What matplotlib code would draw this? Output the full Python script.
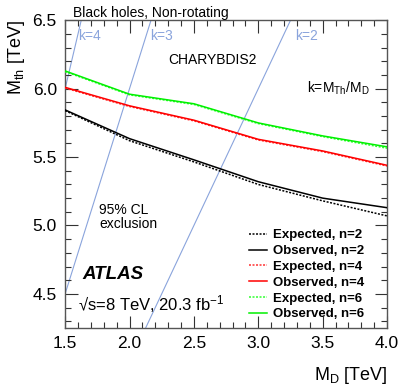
import numpy as np
import matplotlib
matplotlib.use("Agg")
import matplotlib.pyplot as plt
from matplotlib.ticker import MultipleLocator, FormatStrFormatter
from matplotlib.lines import Line2D

plt.rcParams['font.family'] = ['Liberation Sans', 'DejaVu Sans']
plt.rcParams['mathtext.fontset'] = 'custom'
plt.rcParams['mathtext.rm'] = 'Liberation Sans'
plt.rcParams['mathtext.it'] = 'Liberation Sans:italic'
plt.rcParams['mathtext.bf'] = 'Liberation Sans:bold'

md = [1.5, 2.0, 2.5, 3.0, 3.5, 4.0]
exp_n2 = [5.84, 5.62, 5.465, 5.30, 5.18, 5.07]
obs_n2 = [5.845, 5.635, 5.48, 5.32, 5.20, 5.13]
exp_n4 = [6.005, 5.87, 5.765, 5.625, 5.54, 5.435]
obs_n4 = [6.01, 5.875, 5.77, 5.63, 5.545, 5.44]
exp_n6 = [6.125, 5.955, 5.885, 5.745, 5.65, 5.565]
obs_n6 = [6.13, 5.96, 5.89, 5.75, 5.655, 5.575]
k_values = [4, 3, 2]

dash = (0, (1.3, 1.0))
fig = plt.figure(figsize=(4.07, 3.91), dpi=100)
ax = fig.add_axes([0.16, 0.161, 0.791, 0.787])

xs = np.array([1.5, 4.0])
for k in k_values:
    ax.plot(xs, k * xs, color='#8aa4dc', lw=0.8, zorder=1)

ax.plot(md, exp_n2, color='black', ls=dash, lw=1.1, zorder=3)
ax.plot(md, obs_n2, color='black', lw=1.1, zorder=3)
ax.plot(md, exp_n4, color='#ff3030', ls=dash, lw=1.1, zorder=3)
ax.plot(md, obs_n4, color='#ff0000', lw=1.1, zorder=3)
ax.plot(md, exp_n6, color='#30ff30', ls=dash, lw=1.1, zorder=3)
ax.plot(md, obs_n6, color='#00f000', lw=1.1, zorder=3)

ax.set_xlim(1.5, 4.0)
ax.set_ylim(4.25, 6.5)
ax.xaxis.set_major_locator(MultipleLocator(0.5))
ax.xaxis.set_minor_locator(MultipleLocator(0.1))
ax.yaxis.set_major_locator(MultipleLocator(0.5))
ax.yaxis.set_minor_locator(MultipleLocator(0.1))
ax.xaxis.set_major_formatter(FormatStrFormatter('%.1f'))
ax.yaxis.set_major_formatter(FormatStrFormatter('%.1f'))
ax.tick_params(which='both', direction='in', top=True, right=True,
               labelsize=12.5, color='#333333')
ax.tick_params(which='major', length=9, width=0.8, pad=6)
ax.tick_params(which='minor', length=4.5, width=0.8)
for s in ax.spines.values():
    s.set_color('#555555')
    s.set_linewidth(1.0)

ax.set_xlabel('M$_{\\mathregular{D}}$ [TeV]', fontsize=13, loc='right', labelpad=10)
ax.set_ylabel('M$_{\\mathregular{th}}$ [TeV]', fontsize=13, loc='top')

fig.text(0.18, 0.968, 'Black holes, Non-rotating', fontsize=10, va='center')
ax.text(0.04, 0.95, 'k=4', transform=ax.transAxes, color='#8aa4dc', fontsize=10, va='center')
ax.text(0.265, 0.95, 'k=3', transform=ax.transAxes, color='#8aa4dc', fontsize=10, va='center')
ax.text(0.715, 0.95, 'k=2', transform=ax.transAxes, color='#8aa4dc', fontsize=10, va='center')
ax.text(0.32, 0.872, 'CHARYBDIS2', transform=ax.transAxes, fontsize=10, va='center')
ax.text(0.75, 0.78, 'k=M$_{\\mathregular{Th}}$/M$_{\\mathregular{D}}$',
        transform=ax.transAxes, fontsize=10, va='center')
ax.text(0.105, 0.36, '95% CL\nexclusion', transform=ax.transAxes, fontsize=10,
        va='center', linespacing=1.0)
ax.text(0.055, 0.175, 'ATLAS', transform=ax.transAxes, fontsize=13.5,
        fontweight='bold', fontstyle='italic', va='center')
ax.text(0.04, 0.078, '\u221as=8 TeV, 20.3 fb$^{\\mathregular{-1}}$',
        transform=ax.transAxes, fontsize=12, va='center')

handles = [
    Line2D([], [], color='black', ls=dash, lw=1.1),
    Line2D([], [], color='black', lw=1.1),
    Line2D([], [], color='#ff3030', ls=dash, lw=1.1),
    Line2D([], [], color='#ff0000', lw=1.1),
    Line2D([], [], color='#30ff30', ls=dash, lw=1.1),
    Line2D([], [], color='#00f000', lw=1.1),
]
labels = ['Expected, n=2', 'Observed, n=2', 'Expected, n=4',
          'Observed, n=4', 'Expected, n=6', 'Observed, n=6']
ax.legend(handles, labels, loc='lower right', bbox_to_anchor=(0.93, 0.025),
          frameon=False, prop={'weight': 'bold', 'size': 9.5},
          handlelength=1.4, handletextpad=0.45, labelspacing=0.27,
          borderaxespad=0.0, borderpad=0.0)

fig.savefig('out.png', dpi=100)
